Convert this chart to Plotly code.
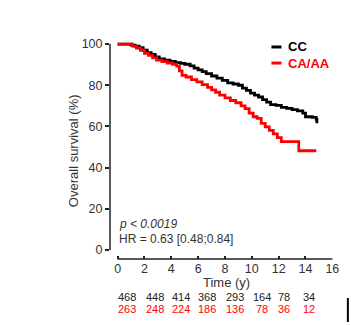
import plotly.graph_objects as go

# Kaplan-Meier estimates
cc_time = [0, 0.8, 1.0, 1.3, 1.6, 1.9, 2.2, 2.5, 2.8, 3.1, 3.5, 3.9, 4.3, 4.7, 5.0, 5.4, 5.7, 6.0,
           6.3, 6.6, 7.0, 7.4, 7.8, 8.2, 8.6, 9.0, 9.3, 9.6, 9.9, 10.2, 10.5, 10.8, 11.1, 11.4,
           11.8, 12.2, 12.6, 13.0, 13.4, 13.8, 14.0, 14.5, 14.8, 14.85]
cc_surv = [100, 100, 99.5, 99, 98.2, 97, 95.8, 95, 93.8, 92.8, 92.2, 91.6, 91.0, 90.6, 90.2, 89.4,
           88.3, 87.5, 86.6, 85.6, 84.5, 83.5, 82.4, 81.2, 80.6, 80.0, 78.6, 77.5, 76.2, 75.2,
           74.3, 73.0, 71.8, 70.6, 70.2, 69.3, 68.8, 68.2, 67.6, 66.5, 64.7, 64.4, 63.4, 61.5]

ca_time = [0, 0.9, 1.1, 1.4, 1.7, 2.0, 2.3, 2.6, 2.9, 3.3, 3.7, 4.1, 4.4, 4.6, 4.8, 5.1, 5.5, 5.9,
           6.3, 6.7, 7.0, 7.3, 7.6, 8.0, 8.4, 8.8, 9.2, 9.5, 9.8, 10.1, 10.4, 10.7, 11.0, 11.3,
           11.6, 11.9, 12.2, 13.5, 14.8]
ca_surv = [100, 100, 99, 98, 97, 95.5, 94.5, 93.3, 92.2, 91.5, 90.8, 90.2, 89.3, 87, 84.8, 84,
           82.7, 81.6, 80.3, 79, 77.8, 76.6, 75.2, 73.9, 72.6, 71.5, 70, 68.6, 66.5, 64.7, 63.9,
           61.5, 59.8, 58.1, 56.4, 54.6, 52.6, 48.2, 48.2]

risk_times = [0, 2, 4, 6, 8, 10, 12, 14]
risk_cc = [468, 448, 414, 368, 293, 164, 78, 34]
risk_ca = [263, 248, 224, 186, 136, 78, 36, 12]
risk_shift = [9, 11, 10, 9, 10, 10, 5, 4]

x_ticks = [0, 2, 4, 6, 8, 10, 12, 14, 16]
y_ticks = [0, 20, 40, 60, 80, 100]

FONT = "Liberation Sans, Arial, sans-serif"
BLACK = "#000000"
RED = "#ff0000"
AXIS = "#222222"
TXT = "#333333"

fig = go.Figure()
fig.add_trace(go.Scatter(x=cc_time, y=cc_surv, mode="lines", line=dict(color=BLACK, width=2.8, shape="hv"),
                         name="CC", showlegend=False))
fig.add_trace(go.Scatter(x=ca_time, y=ca_surv, mode="lines", line=dict(color=RED, width=2.8, shape="hv"),
                         name="CA/AA", showlegend=False))

annotations = []
for t, a, b, s in zip(risk_times, risk_cc, risk_ca, risk_shift):
    annotations.append(dict(x=t, y=-0.173, xref="x", yref="paper", text=str(a), showarrow=False,
                            xshift=s, font=dict(family=FONT, size=11, color="#222222"),
                            xanchor="center", yanchor="middle"))
    annotations.append(dict(x=t, y=-0.231, xref="x", yref="paper", text=str(b), showarrow=False,
                            xshift=s, font=dict(family=FONT, size=11, color=RED),
                            xanchor="center", yanchor="middle"))

annotations += [
    dict(x=-0.163, y=0.5, xref="paper", yref="paper", text="Overall survival (%)", textangle=-90,
         showarrow=False, font=dict(family=FONT, size=13, color=TXT), xanchor="center", yanchor="middle"),
    dict(x=0.522, y=-0.11, xref="paper", yref="paper", text="Time (y)", showarrow=False,
         font=dict(family=FONT, size=13, color=TXT), xanchor="center", yanchor="middle"),
    dict(x=0.031, y=0.161, xref="paper", yref="paper", text="<i>p &lt; 0.0019</i>", showarrow=False,
         font=dict(family=FONT, size=12, color=TXT), xanchor="left", yanchor="middle"),
    dict(x=0.031, y=0.092, xref="paper", yref="paper", text="HR = 0.63 [0.48;0.84]", showarrow=False,
         font=dict(family=FONT, size=12, color=TXT), xanchor="left", yanchor="middle"),
    dict(x=0.791, y=0.977, xref="paper", yref="paper", text="<b>CC</b>", showarrow=False,
         font=dict(family=FONT, size=13, color=BLACK), xanchor="left", yanchor="middle"),
    dict(x=0.791, y=0.903, xref="paper", yref="paper", text="<b>CA/AA</b>", showarrow=False,
         font=dict(family=FONT, size=13, color=RED), xanchor="left", yanchor="middle"),
]

shapes = [
    dict(type="line", xref="paper", yref="y", x0=0, x1=0, y0=0, y1=100, line=dict(color=AXIS, width=1.5)),
    dict(type="line", xref="x", yref="paper", x0=0, x1=16, y0=0, y1=0, line=dict(color=AXIS, width=1.5)),
    dict(type="line", xref="paper", yref="paper", x0=0.724, x1=0.769, y0=0.977, y1=0.977,
         line=dict(color=BLACK, width=3)),
    dict(type="line", xref="paper", yref="paper", x0=0.724, x1=0.769, y0=0.903, y1=0.903,
         line=dict(color=RED, width=3)),
    dict(type="rect", xref="paper", yref="paper", x0=(349 - 110) / 225, x1=(351 - 110) / 225,
         y0=(259 - 322) / 217, y1=(259 - 298) / 217, fillcolor="black", line=dict(width=0)),
]

fig.update_layout(
    width=351, height=325,
    margin=dict(l=110, r=16, t=42, b=66),
    paper_bgcolor="white", plot_bgcolor="white",
    showlegend=False,
    annotations=annotations, shapes=shapes,
    xaxis=dict(range=[-0.57, 16.05], tickvals=x_ticks, ticktext=[str(v) for v in x_ticks],
               ticks="inside", ticklen=3, tickwidth=1.5, tickcolor=AXIS, showline=False,
               showgrid=False, zeroline=False, tickfont=dict(family=FONT, size=12.5, color=TXT),
               fixedrange=True),
    yaxis=dict(range=[-4.37, 101], tickvals=y_ticks, ticktext=[str(v) for v in y_ticks],
               ticks="outside", ticklen=4, tickwidth=1.5, tickcolor=AXIS, showline=False,
               showgrid=False, zeroline=False, tickfont=dict(family=FONT, size=12.5, color=TXT),
               fixedrange=True),
)

fig.write_html("out.html")
